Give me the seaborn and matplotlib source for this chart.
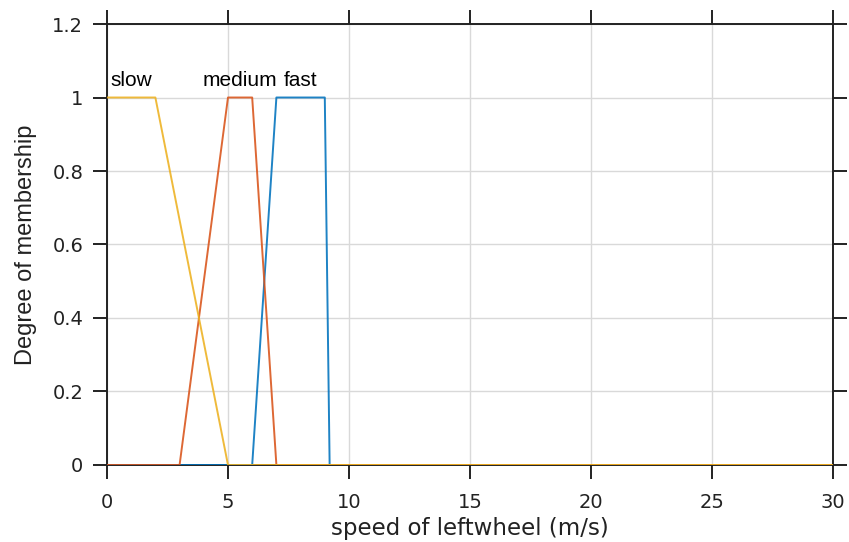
import pandas as pd
import seaborn as sns
import matplotlib.pyplot as plt

# membership function vertices (speed in m/s, degree)
slow_x = [0, 2, 5, 30]
slow_y = [1, 1, 0, 0]
medium_x = [0, 3, 5, 6, 7, 30]
medium_y = [0, 0, 1, 1, 0, 0]
fast_x = [0, 6, 7, 9, 9.2, 30]
fast_y = [0, 0, 1, 1, 0, 0]

labels = ["fast", "medium", "slow"]
label_pos = [8, 5.5, 1]
xticks = [0, 5, 10, 15, 20, 25, 30]
yticks = [0, 0.2, 0.4, 0.6, 0.8, 1, 1.2]
ytick_labels = ["0", "0.2", "0.4", "0.6", "0.8", "1", "1.2"]

sns.set_style("ticks")
plt.rcParams['font.family'] = ['Liberation Sans', 'DejaVu Sans']

fig = plt.figure(figsize=(8.49, 5.42), dpi=100)
ax = fig.add_axes([0.126, 0.1421, 0.8552, 0.8136])

colors = {"fast": "#0072BD", "medium": "#D95319", "slow": "#EDB120"}
series = {"fast": (fast_x, fast_y), "medium": (medium_x, medium_y), "slow": (slow_x, slow_y)}
for name in labels:
    xs, ys = series[name]
    df = pd.DataFrame({"x": xs, "y": ys})
    sns.lineplot(data=df, x="x", y="y", ax=ax, sort=False, estimator=None,
                 color=colors[name], lw=1.4, alpha=0.88, zorder=3)

for name, px in zip(labels, label_pos):
    ax.text(px, 1.03, name, ha="center", va="baseline", fontsize=15, color="black")

ax.set_xlim(0, 30)
ax.set_ylim(0, 1.2)
ax.set_xticks(xticks)
ax.set_yticks(yticks)
ax.set_yticklabels(ytick_labels)
ax.grid(True, color="#d9d9d9", lw=1.0, zorder=0)
for s in ax.spines.values():
    s.set_visible(True)
    s.set_color("#222222")
    s.set_linewidth(1.4)
ax.tick_params(axis="both", which="both", direction="out", length=10, width=1.4,
               colors="#222222", labelsize=14, top=True, right=True,
               labeltop=False, labelright=False)
for lab in ax.get_xticklabels() + ax.get_yticklabels():
    lab.set_family("DejaVu Sans")
ax.tick_params(axis="x", pad=10)
ax.tick_params(axis="y", pad=7)
ax.set_xlabel("speed of leftwheel (m/s)", fontsize=16.5, family="DejaVu Sans",
              color="#222222", labelpad=4)
ax.set_ylabel("Degree of membership", fontsize=17, color="#222222", labelpad=11)

fig.savefig("out.png", dpi=100)
